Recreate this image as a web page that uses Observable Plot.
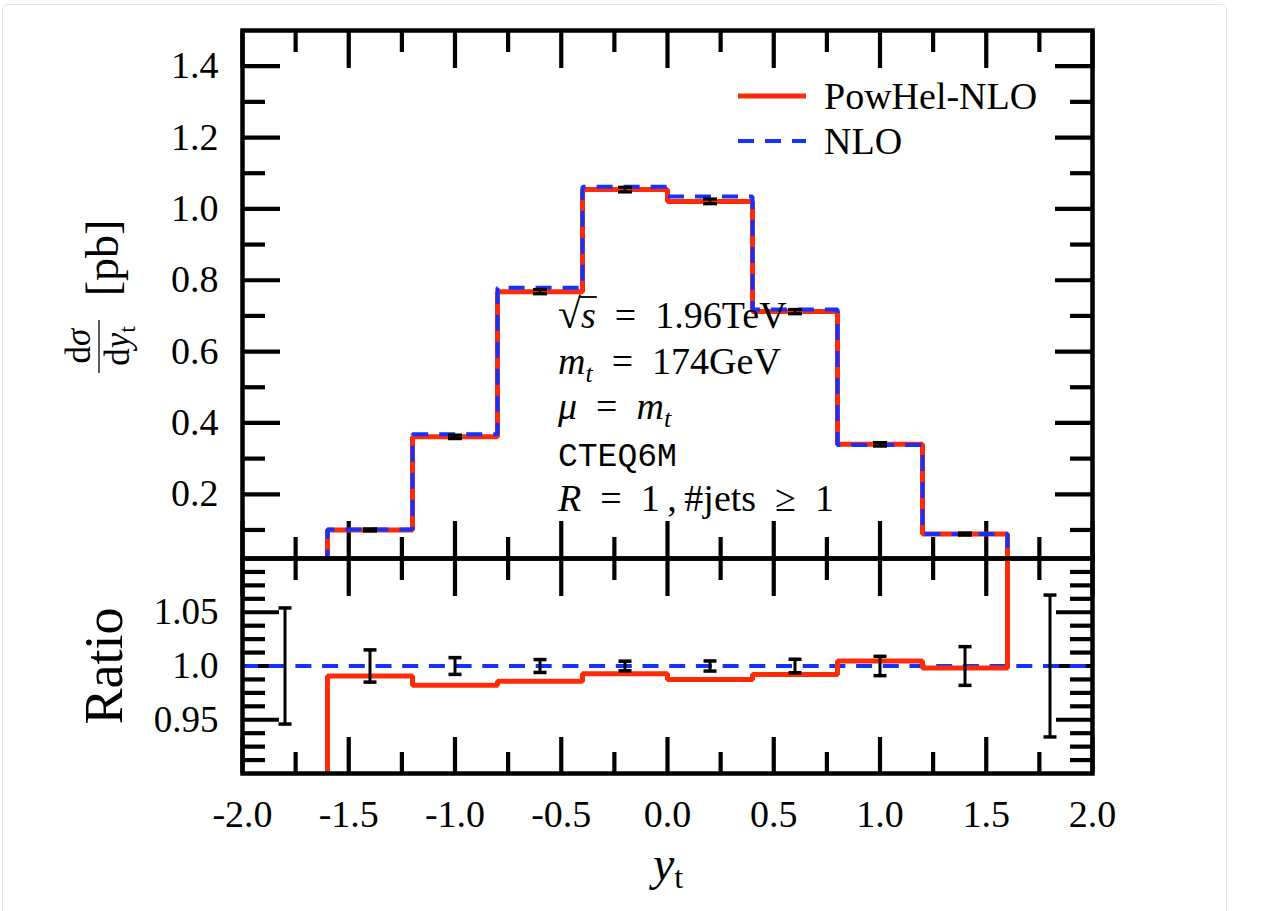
<!DOCTYPE html>
<html>
<head>
<meta charset="utf-8">
<script src="https://cdn.jsdelivr.net/npm/d3@7"></script>
<script src="https://cdn.jsdelivr.net/npm/@observablehq/plot@0.6"></script>
<style>
  body { margin: 0; background: #fff; }
  #wrap { position: relative; width: 1263px; height: 911px; overflow: hidden; }
  #card { position: absolute; left: 2px; top: 4px; width: 1223px; height: 930px; border: 1px solid #e3e3e3; border-radius: 5px; }
  #top, #bot { position: absolute; left: 0; }
  #top { top: 0; }
  #bot { top: 540px; }
</style>
</head>
<body>
<div id="wrap"><div id="card"></div><div id="top"></div><div id="bot"></div></div>
<script>
// ---------------- data ----------------
const binEdges   = [-1.6, -1.2, -0.8, -0.4, 0.0, 0.4, 0.8, 1.2, 1.6];
const binCenters = [-1.4, -1.0, -0.6, -0.2, 0.2, 0.6, 1.0, 1.4];
const powhelNLO  = [0.100, 0.361, 0.768, 1.054, 1.021, 0.712, 0.340, 0.0885];
const nloValues  = [0.101, 0.368, 0.779, 1.062, 1.035, 0.718, 0.338, 0.089];
const powhelErr  = [0.003, 0.005, 0.006, 0.0065, 0.0066, 0.006, 0.005, 0.003];
const ratioValues = [0.9906, 0.9822, 0.9859, 0.9929, 0.9875, 0.9922, 1.0047, 0.9981];
const ratioErr    = [0.015, 0.0078, 0.006, 0.0045, 0.0047, 0.0063, 0.009, 0.018];
const topEnds   = [0.0, 0.0];   // histogram drops to zero outside the bins
const ratioEnds = [0.0, 2.0];   // off-scale ratio outside the bins (as drawn)
const ratioRef  = [1.0];
const normX     = [-1.8, 1.8];
const normErr   = [0.054, 0.066];

const xMajorTicks = [-2.0, -1.5, -1.0, -0.5, 0.0, 0.5, 1.0, 1.5, 2.0];
const xTickLabels = ["-2.0", "-1.5", "-1.0", "-0.5", "0.0", "0.5", "1.0", "1.5", "2.0"];
const xMinorTicks = [-1.75, -1.25, -0.75, -0.25, 0.25, 0.75, 1.25, 1.75];
const topYMajorTicks = [0.2, 0.4, 0.6, 0.8, 1.0, 1.2, 1.4];
const topYTickLabels = ["0.2", "0.4", "0.6", "0.8", "1.0", "1.2", "1.4"];
const topYMinorTicks = [0.1, 0.3, 0.5, 0.7, 0.9, 1.1, 1.3];
const ratioMajorTicks = [0.95, 1.0, 1.05];
const ratioTickLabels = ["0.95", "1.0", "1.05"];
const ratioMinorTicks = [0.9125, 0.925, 0.9375, 0.9625, 0.975, 0.9875, 1.0125, 1.025, 1.0375, 1.0625, 1.075, 1.0875];
const seriesNames = ["PowHel-NLO", "NLO"];

// ---------------- styles ----------------
const RED = "#ff2b06", BLUE = "#1432ff";
const SERIF = "'Liberation Serif', 'DejaVu Serif', serif";
const W = 1263;
const TICK_W = 4.2, FRAME_W = 4.5;

function stepSeries(values, ends) {
  const last = binEdges.length - 1;
  const pts = [{x: binEdges[0], y: ends[0]}];
  values.forEach((v, i) => pts.push({x: binEdges[i], y: v}));
  pts.push({x: binEdges[last], y: values[values.length - 1]});
  pts.push({x: binEdges[last], y: ends[1]});
  return pts;
}
const capSymbol = {
  draw(ctx, size) { const w = Math.sqrt(size / Math.PI); ctx.moveTo(-w, 0); ctx.lineTo(w, 0); }
};
function tickMarks(axis, anchor, major, minor, majLen, minLen) {
  const A = axis === "x" ? Plot.axisX : Plot.axisY;
  return [
    A(major, {anchor, tickSize: -majLen, fill: "none", label: null, stroke: "black", strokeWidth: TICK_W}),
    A(minor, {anchor, tickSize: -minLen, fill: "none", label: null, stroke: "black", strokeWidth: TICK_W})
  ];
}
function errorBars(data, capR, stemW, capW) {
  return [
    Plot.ruleX(data, {x: "x", y1: "lo", y2: "hi", stroke: "black", strokeWidth: stemW}),
    Plot.dot(data, {x: "x", y: "lo", symbol: capSymbol, r: capR, fill: "none", stroke: "black", strokeWidth: capW}),
    Plot.dot(data, {x: "x", y: "hi", symbol: capSymbol, r: capR, fill: "none", stroke: "black", strokeWidth: capW})
  ];
}

// ---------------- top panel ----------------
const topErrData = binCenters.map((c, i) => ({x: c, lo: powhelNLO[i] - powhelErr[i], hi: powhelNLO[i] + powhelErr[i]}));
const topPlot = Plot.plot({
  width: W, height: 560,
  marginLeft: 242, marginRight: W - 1092, marginTop: 30, marginBottom: 2,
  x: {domain: [-2, 2]},
  y: {domain: [0.02, 1.5]},
  style: {fontFamily: SERIF, fontSize: "38px", color: "black", background: "transparent", overflow: "visible"},
  marks: [
    ...tickMarks("x", "top", xMajorTicks, xMinorTicks, 37, 21),
    ...tickMarks("x", "bottom", xMajorTicks, xMinorTicks, 37, 21),
    ...tickMarks("y", "left", topYMajorTicks, topYMinorTicks, 38, 23),
    ...tickMarks("y", "right", topYMajorTicks, topYMinorTicks, 38, 23),
    Plot.axisY(topYMajorTicks, {anchor: "left", tickSize: 0, tickPadding: 24, label: null, fontSize: 38,
      tickFormat: d => topYTickLabels[topYMajorTicks.indexOf(d)]}),
    Plot.line(stepSeries(powhelNLO, topEnds), {x: "x", y: "y", curve: "step-after", stroke: RED, strokeWidth: 5,
      strokeLinejoin: "miter", strokeLinecap: "butt", clip: true}),
    Plot.line(stepSeries(nloValues, topEnds), {x: "x", y: "y", curve: "step-after", stroke: BLUE, strokeWidth: 4,
      strokeDasharray: "16,11", strokeLinejoin: "miter", strokeLinecap: "butt", clip: true}),
    ...errorBars(topErrData, 7, 2.5, 3.2),
    Plot.frame({stroke: "black", strokeWidth: FRAME_W})
  ]
});
document.getElementById("top").appendChild(topPlot);

// ---------------- ratio panel ----------------
const ratioErrData = binCenters.map((c, i) => ({x: c, lo: 1 - ratioErr[i], hi: 1 + ratioErr[i]}));
const normErrData = normX.map((c, i) => ({x: c, lo: 1 - normErr[i], hi: 1 + normErr[i]}));
const botPlot = Plot.plot({
  width: W, height: 371,
  marginLeft: 242, marginRight: W - 1092, marginTop: 18, marginBottom: 138,
  x: {domain: [-2, 2]},
  y: {domain: [0.9, 1.1]},
  style: {fontFamily: SERIF, fontSize: "38px", color: "black", background: "transparent", overflow: "visible"},
  marks: [
    ...tickMarks("x", "top", xMajorTicks, xMinorTicks, 37, 21),
    ...tickMarks("x", "bottom", xMajorTicks, xMinorTicks, 36, 21),
    ...tickMarks("y", "left", ratioMajorTicks, ratioMinorTicks, 37, 23),
    ...tickMarks("y", "right", ratioMajorTicks, ratioMinorTicks, 37, 23),
    Plot.axisX(xMajorTicks, {anchor: "bottom", tickSize: 0, tickPadding: 27, label: null, fontSize: 38,
      tickFormat: d => xTickLabels[xMajorTicks.indexOf(d)]}),
    Plot.axisY(ratioMajorTicks, {anchor: "left", tickSize: 0, tickPadding: 24, label: null, fontSize: 37,
      tickFormat: d => ratioTickLabels[ratioMajorTicks.indexOf(d)]}),
    Plot.ruleY(ratioRef, {stroke: BLUE, strokeWidth: 4, strokeDasharray: "16,10.7"}),
    Plot.line(stepSeries(ratioValues, ratioEnds), {x: "x", y: "y", curve: "step-after", stroke: RED, strokeWidth: 5,
      strokeLinejoin: "miter", strokeLinecap: "butt", clip: true}),
    ...errorBars(ratioErrData, 6.5, 3, 3.5),
    ...errorBars(normErrData, 6.5, 3, 3.5),
    Plot.frame({stroke: "black", strokeWidth: FRAME_W})
  ]
});
document.getElementById("bot").appendChild(botPlot);

// make every tick bold, like the reference (CSS beats presentation attributes)
const tickGroups = d3.selectAll([topPlot, botPlot]).selectAll('g[aria-label$="tick"]');
tickGroups.style("stroke-width", TICK_W + "px");
tickGroups.selectAll("path, line").style("stroke-width", TICK_W + "px");

// ---------------- text overlays ----------------
function richText(parent, x, y, parts, size, opts = {}) {
  const t = parent.append("text").attr("x", x).attr("y", y)
    .attr("font-size", size).attr("font-family", opts.family || SERIF).attr("fill", "black")
    .attr("text-anchor", opts.anchor || "start");
  let shift = 0;
  parts.forEach(p => {
    const ts = t.append("tspan").text(p.t);
    if (p.i) ts.attr("font-style", "italic");
    if (p.size) ts.attr("font-size", p.size);
    if (p.family) ts.attr("font-family", p.family);
    const want = p.sub ? p.sub : 0;
    if (want !== shift) { ts.attr("dy", want - shift); shift = want; }
  });
  return t;
}

const topSvg = d3.select(topPlot);
// legend
const legendRows = [{y: 96, text: seriesNames[0], color: RED, dash: null, w: 5},
                    {y: 141, text: seriesNames[1], color: BLUE, dash: "16,11", w: 4}];
legendRows.forEach(r => {
  const ln = topSvg.append("line").attr("x1", 738).attr("x2", 806).attr("y1", r.y).attr("y2", r.y)
    .attr("stroke", r.color).attr("stroke-width", r.w);
  if (r.dash) ln.attr("stroke-dasharray", r.dash);
  topSvg.append("text").attr("x", 824).attr("y", r.y + 13).attr("font-size", 38).attr("text-anchor", "start")
    .attr("font-family", SERIF).attr("fill", "black").text(r.text);
});

// annotation block
const ax = 558, ay = 328, gap = 45.6;
const EQ = "\u2002=\u2002";
const l1 = richText(topSvg, ax, ay, [{t: "√", size: 42}, {t: "s", i: true}, {t: EQ + "1.96TeV"}], 38);
{
  const n = l1.node();
  const e0 = n.getExtentOfChar(0), e1 = n.getExtentOfChar(1);
  topSvg.append("line").attr("x1", e0.x + e0.width - 2).attr("x2", e1.x + e1.width + 1)
    .attr("y1", ay - 31).attr("y2", ay - 31).attr("stroke", "black").attr("stroke-width", 1.8);
}
richText(topSvg, ax, ay + gap, [{t: "m", i: true}, {t: "t", i: true, size: 26, sub: 8}, {t: EQ + "174GeV"}], 38);
richText(topSvg, ax, ay + 2 * gap, [{t: "μ", i: true}, {t: EQ}, {t: "m", i: true}, {t: "t", i: true, size: 26, sub: 8}], 38);
richText(topSvg, ax, ay + 3 * gap + 1, [{t: "CTEQ6M"}], 33, {family: "'Liberation Mono', 'DejaVu Sans Mono', monospace"});
richText(topSvg, ax, ay + 4 * gap + 1, [{t: "R", i: true}, {t: EQ + "1\u2009,\u2009#jets\u2002≥\u20021"}], 38);

// y-axis title (rotated):  dσ/dy_t [pb]
const g = topSvg.append("g").attr("transform", "rotate(-90)");
g.append("text").attr("x", -258).attr("y", 118).attr("text-anchor", "middle")
  .attr("font-size", 46).attr("font-family", SERIF).attr("fill", "black").text("[pb]");
g.append("line").attr("x1", -373).attr("x2", -320).attr("y1", 99).attr("y2", 99)
  .attr("stroke", "#333").attr("stroke-width", 1.6);
richText(g, -346, 90, [{t: "d"}, {t: "σ", i: true}], 35, {anchor: "middle"});
richText(g, -346, 129, [{t: "d"}, {t: "y", i: true}, {t: "t", size: 24, sub: 6}], 35, {anchor: "middle"});

const botSvg = d3.select(botPlot);
// Ratio title
botSvg.append("g").attr("transform", "rotate(-90)")
  .append("text").attr("x", -(666 - 540)).attr("y", 122).attr("text-anchor", "middle")
  .attr("font-size", 54).attr("font-family", SERIF).attr("fill", "black").text("Ratio");
// x title
richText(botSvg, 668, 880 - 540, [{t: "y", i: true}, {t: "t", size: 32, sub: 8}], 48, {anchor: "middle"});
</script>
</body>
</html>
